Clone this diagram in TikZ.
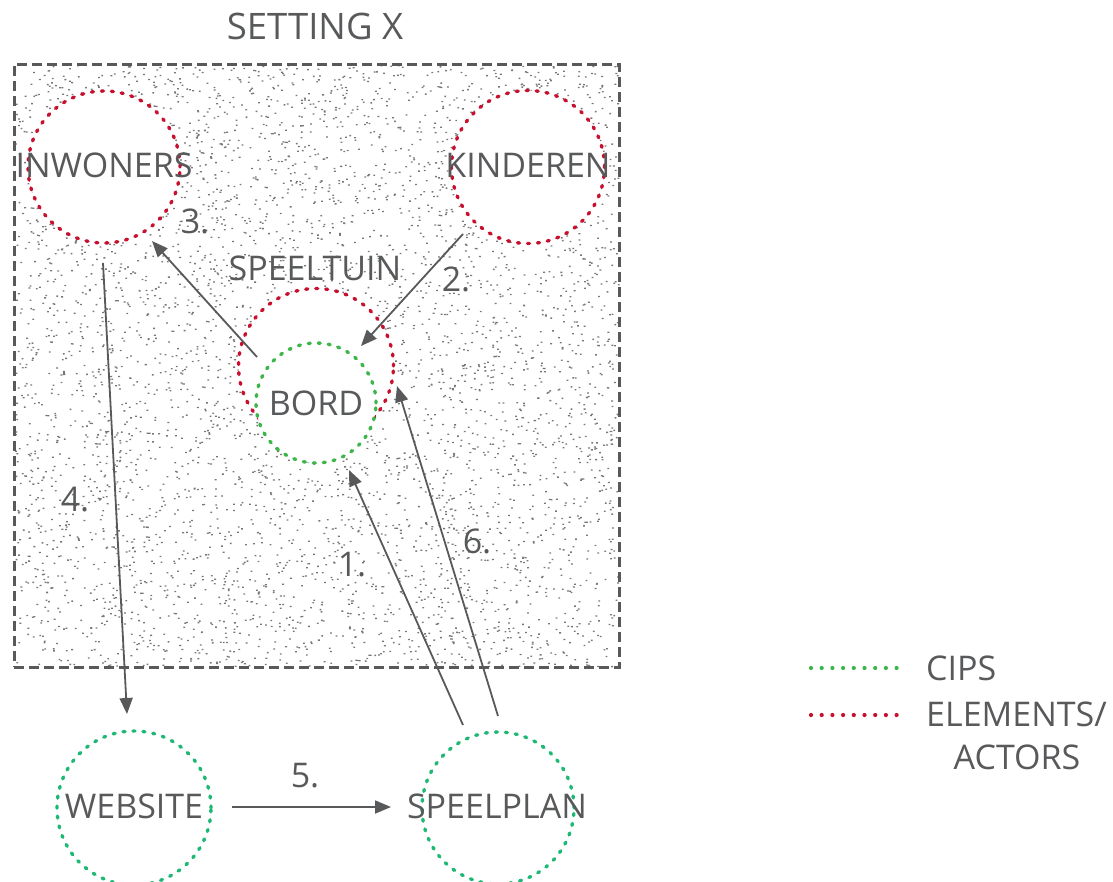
\documentclass[tikz,border=0pt]{standalone}
\usepackage{fontspec}
\setmainfont{Open Sans}
\usetikzlibrary{arrows.meta}
\definecolor{txt}{HTML}{58595B}
\definecolor{ired}{HTML}{C8102E}
\definecolor{cgreen}{HTML}{3CB54A}
\definecolor{tgreen}{HTML}{1DB874}
\definecolor{dotgray}{HTML}{777777}
\begin{document}
\begin{tikzpicture}[x=1pt,y=-1pt,
  lbl/.style={text=txt,font=\fontsize{34}{40}\selectfont,inner sep=0pt},
  ring/.style={circle,fill=white,line width=3.4pt,dash pattern=on 2pt off 8pt,line cap=round,inner sep=0pt,minimum size=#1},
  redring/.style={ring=#1,draw=ired},
  grnring/.style={ring=#1,draw=cgreen},
  tgrnring/.style={ring=#1,draw=tgreen},
  arr/.style={draw=txt,line width=1.8pt,-{Triangle[length=16pt,width=13pt]}},
  legline/.style={line width=4.2pt,line cap=round,dash pattern=on 0pt off 10.7pt},
  frame/.style={draw=txt,line width=3pt,dash pattern=on 10pt off 5pt}]
\useasboundingbox (0,0) rectangle (1113,881);
% stipple
\pgfmathsetseed{7}
\fill[dotgray] \foreach \i in {1,...,5000} { ({15+603*rnd},{65+601*rnd}) rectangle ++(1.8,1.3) };
\node[frame,minimum width=605pt,minimum height=603pt,inner sep=0pt] (setting) at (316.5,365.5) {};
\node[lbl,font=\fontsize{36.5}{42}\selectfont] (title) at (315,26) {SETTING X};
% rings
\node[redring=152pt] (cinw) at (104,167) {};
\node[redring=153pt] (ckind) at (528,167) {};
\node[redring=155pt] (ctuin) at (316,366) {};
\node[grnring=120pt] (cbord) at (316,403) {};
\node[tgrnring=154pt] (cweb) at (134,808) {};
\node[tgrnring=152pt] (cplan) at (498,808) {};
% texts
\node[lbl] (inwoners) at (104,165) {INWONERS};
\node[lbl] (kinderen) at (528,165) {KINDEREN};
\node[lbl] (speeltuin) at (315,268) {SPEELTUIN};
\node[lbl] (bord) at (316,403) {BORD};
\node[lbl] (website) at (134,806) {WEBSITE};
\node[lbl] (speelplan) at (497,806) {SPEELPLAN};
% connector ends
\coordinate (a3s) at (257,357);
\coordinate (a3e) at (152,241);
\coordinate (a2s) at (463,234);
\coordinate (a2e) at (361,346);
\coordinate (a4s) at (103,263);
\coordinate (a4e) at (127,714);
\coordinate (a1s) at (463,725);
\coordinate (a1e) at (349,470);
\coordinate (a6s) at (498,716);
\coordinate (a6e) at (397,386);
\coordinate (a5s) at (232,807);
\coordinate (a5e) at (391,807);
\draw[arr] (a3s) -- (a3e);
\draw[arr] (a2s) -- (a2e);
\draw[arr] (a4s) -- (a4e);
\draw[arr] (a1s) -- (a1e);
\draw[arr] (a6s) -- (a6e);
\draw[arr] (a5s) -- (a5e);
% step labels
\node[lbl] (n3) at (195,221) {3.};
\node[lbl] (n2) at (456,279) {2.};
\node[lbl] (n4) at (75,500) {4.};
\node[lbl] (n1) at (352,565) {1.};
\node[lbl] (n6) at (477,541) {6.};
\node[lbl] (n5) at (305,776) {5.};
% legend
\coordinate (lg1s) at (811,668);
\coordinate (lg1e) at (907,668);
\coordinate (lg2s) at (811,715);
\coordinate (lg2e) at (907,715);
\draw[legline,draw=cgreen] (lg1s) -- (lg1e);
\draw[legline,draw=ired] (lg2s) -- (lg2e);
\node[lbl,anchor=west] (cips) at (926,668) {CIPS};
\node[lbl,anchor=west] (elem) at (926,714) {ELEMENTS/};
\node[lbl] (actors) at (1017,757) {ACTORS};
\end{tikzpicture}
\end{document}
